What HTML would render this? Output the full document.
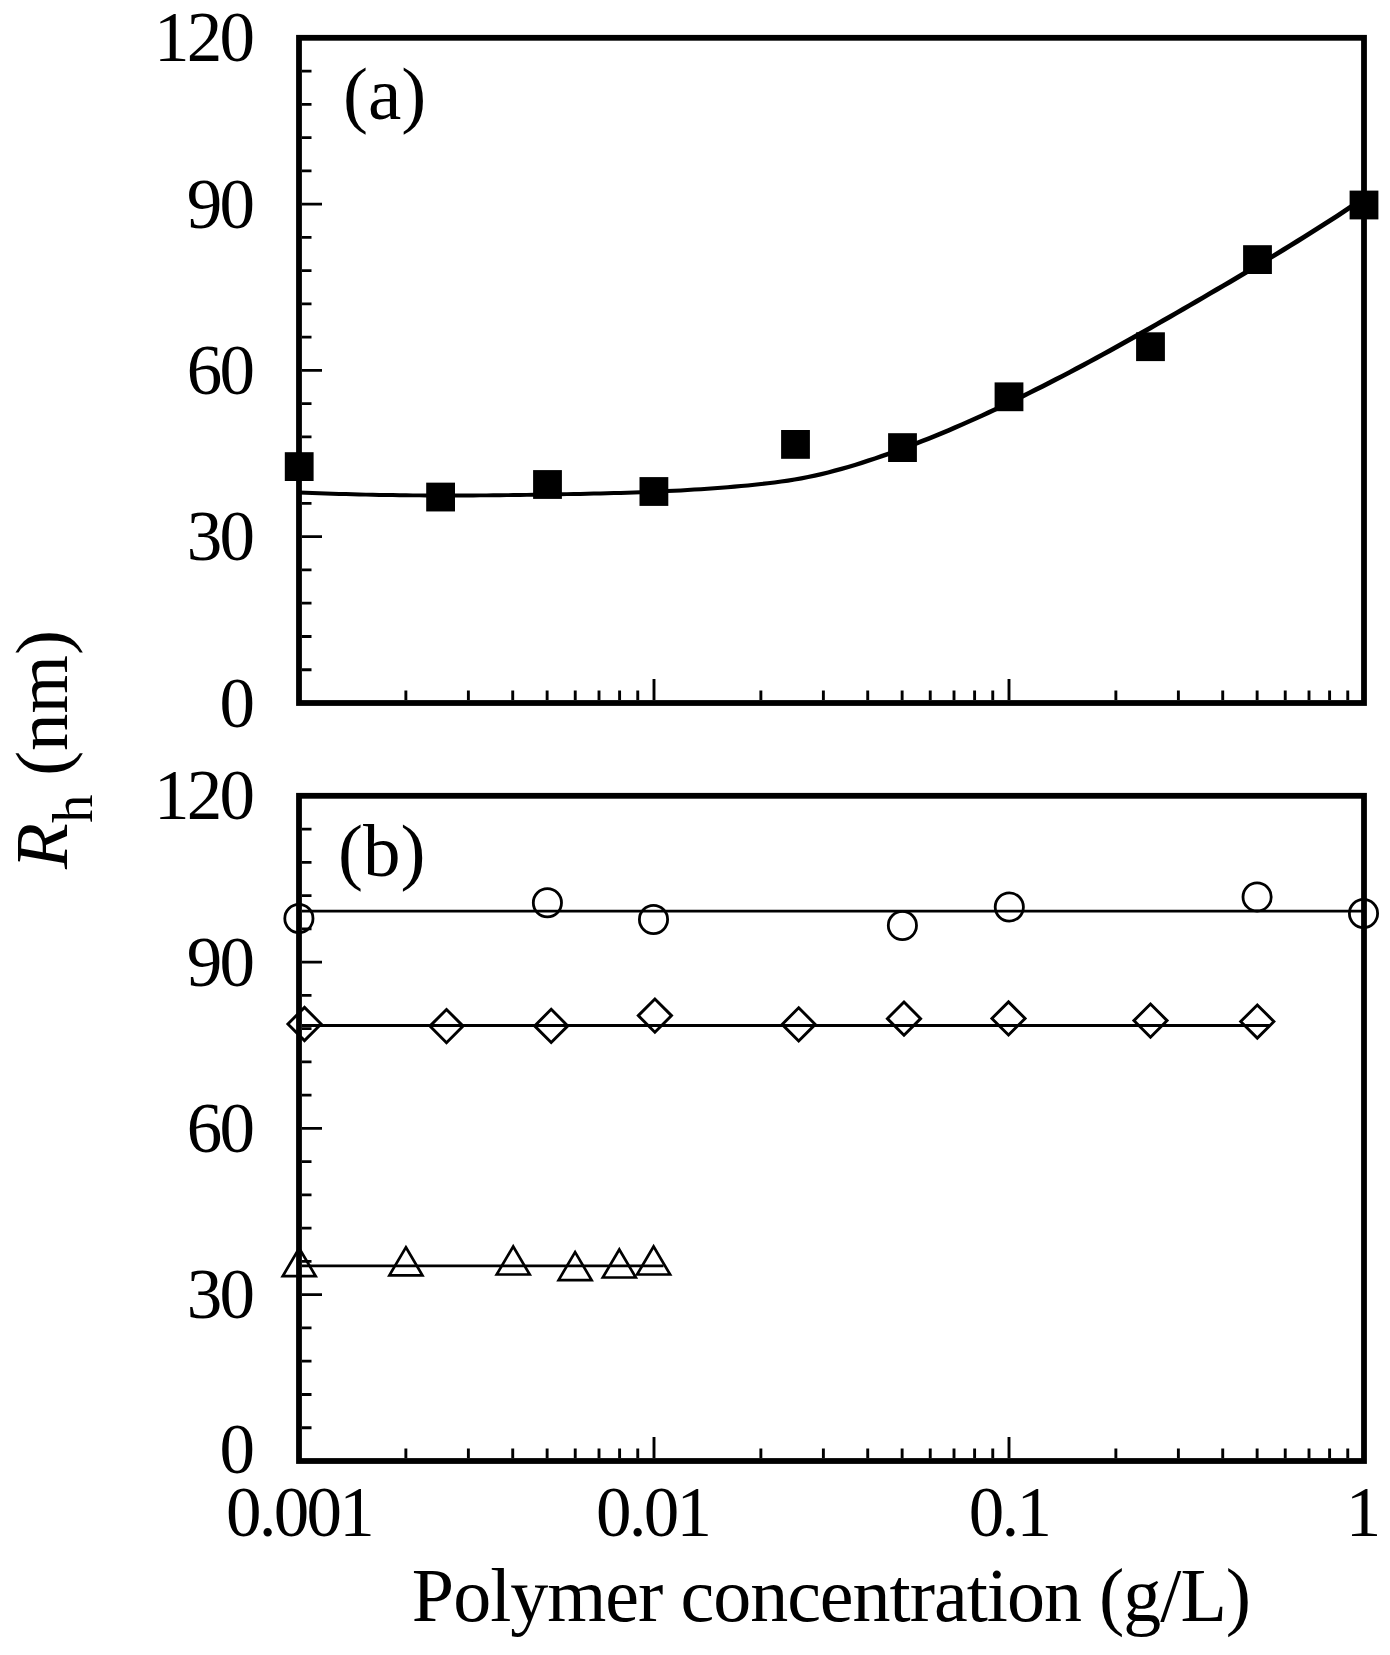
<!DOCTYPE html><html><head><meta charset="utf-8"><style>html,body{margin:0;padding:0;background:#fff;width:1390px;height:1655px;overflow:hidden}svg{display:block}</style></head><body>
<svg width="1390" height="1655" viewBox="0 0 1390 1655">
<rect width="1390" height="1655" fill="#fff"/>
<rect x="299" y="37.80" width="1065" height="665.20" fill="none" stroke="#000" stroke-width="5.8"/>
<path d="M302 669.74H311.5 M302 636.48H311.5 M302 603.22H311.5 M302 569.96H311.5 M302 536.70H322 M302 503.44H311.5 M302 470.18H311.5 M302 436.92H311.5 M302 403.66H311.5 M302 370.40H322 M302 337.14H311.5 M302 303.88H311.5 M302 270.62H311.5 M302 237.36H311.5 M302 204.10H322 M302 170.84H311.5 M302 137.58H311.5 M302 104.32H311.5 M302 71.06H311.5" stroke="#000" stroke-width="2.8" fill="none"/>
<path d="M405.87 700.10V690.40 M468.38 700.10V690.40 M512.73 700.10V690.40 M547.13 700.10V690.40 M575.24 700.10V690.40 M599.01 700.10V690.40 M619.60 700.10V690.40 M637.76 700.10V690.40 M654.00 700.10V679.10 M760.87 700.10V690.40 M823.38 700.10V690.40 M867.73 700.10V690.40 M902.13 700.10V690.40 M930.24 700.10V690.40 M954.01 700.10V690.40 M974.60 700.10V690.40 M992.76 700.10V690.40 M1009.00 700.10V679.10 M1115.87 700.10V690.40 M1178.38 700.10V690.40 M1222.73 700.10V690.40 M1257.13 700.10V690.40 M1285.24 700.10V690.40 M1309.01 700.10V690.40 M1329.60 700.10V690.40 M1347.76 700.10V690.40" stroke="#000" stroke-width="2.9" fill="none"/>
<text x="252.3" y="726.60" text-anchor="end" font-family="Liberation Serif, serif" font-size="71" letter-spacing="-2.75">0</text>
<text x="252.3" y="560.30" text-anchor="end" font-family="Liberation Serif, serif" font-size="71" letter-spacing="-2.75">30</text>
<text x="252.3" y="394.00" text-anchor="end" font-family="Liberation Serif, serif" font-size="71" letter-spacing="-2.75">60</text>
<text x="252.3" y="227.70" text-anchor="end" font-family="Liberation Serif, serif" font-size="71" letter-spacing="-2.75">90</text>
<text x="252.3" y="61.40" text-anchor="end" font-family="Liberation Serif, serif" font-size="71" letter-spacing="-2.75">120</text>
<text x="343" y="119" font-family="Liberation Serif, serif" font-size="75">(a)</text>
<rect x="299" y="795.80" width="1065" height="665.20" fill="none" stroke="#000" stroke-width="5.8"/>
<path d="M302 1427.74H311.5 M302 1394.48H311.5 M302 1361.22H311.5 M302 1327.96H311.5 M302 1294.70H322 M302 1261.44H311.5 M302 1228.18H311.5 M302 1194.92H311.5 M302 1161.66H311.5 M302 1128.40H322 M302 1095.14H311.5 M302 1061.88H311.5 M302 1028.62H311.5 M302 995.36H311.5 M302 962.10H322 M302 928.84H311.5 M302 895.58H311.5 M302 862.32H311.5 M302 829.06H311.5" stroke="#000" stroke-width="2.8" fill="none"/>
<path d="M405.87 1458.10V1448.40 M468.38 1458.10V1448.40 M512.73 1458.10V1448.40 M547.13 1458.10V1448.40 M575.24 1458.10V1448.40 M599.01 1458.10V1448.40 M619.60 1458.10V1448.40 M637.76 1458.10V1448.40 M654.00 1458.10V1437.10 M760.87 1458.10V1448.40 M823.38 1458.10V1448.40 M867.73 1458.10V1448.40 M902.13 1458.10V1448.40 M930.24 1458.10V1448.40 M954.01 1458.10V1448.40 M974.60 1458.10V1448.40 M992.76 1458.10V1448.40 M1009.00 1458.10V1437.10 M1115.87 1458.10V1448.40 M1178.38 1458.10V1448.40 M1222.73 1458.10V1448.40 M1257.13 1458.10V1448.40 M1285.24 1458.10V1448.40 M1309.01 1458.10V1448.40 M1329.60 1458.10V1448.40 M1347.76 1458.10V1448.40" stroke="#000" stroke-width="2.9" fill="none"/>
<text x="252.3" y="1472.60" text-anchor="end" font-family="Liberation Serif, serif" font-size="71" letter-spacing="-2.75">0</text>
<text x="252.3" y="1318.30" text-anchor="end" font-family="Liberation Serif, serif" font-size="71" letter-spacing="-2.75">30</text>
<text x="252.3" y="1152.00" text-anchor="end" font-family="Liberation Serif, serif" font-size="71" letter-spacing="-2.75">60</text>
<text x="252.3" y="985.70" text-anchor="end" font-family="Liberation Serif, serif" font-size="71" letter-spacing="-2.75">90</text>
<text x="252.3" y="819.40" text-anchor="end" font-family="Liberation Serif, serif" font-size="71" letter-spacing="-2.75">120</text>
<text x="338" y="876" font-family="Liberation Serif, serif" font-size="75">(b)</text>
<text x="299.00" y="1536" text-anchor="middle" font-family="Liberation Serif, serif" font-size="71" letter-spacing="-2.75">0.001</text>
<text x="652.50" y="1536" text-anchor="middle" font-family="Liberation Serif, serif" font-size="71" letter-spacing="-2.75">0.01</text>
<text x="1009.00" y="1536" text-anchor="middle" font-family="Liberation Serif, serif" font-size="71" letter-spacing="-2.75">0.1</text>
<text x="1362.00" y="1536" text-anchor="middle" font-family="Liberation Serif, serif" font-size="71" letter-spacing="-2.75">1</text>
<text x="831" y="1620.8" text-anchor="middle" font-family="Liberation Serif, serif" font-size="76" letter-spacing="-1">Polymer concentration (g/L)</text>
<text transform="translate(67 749.5) rotate(-90)" text-anchor="middle" font-family="Liberation Serif, serif" font-size="75"><tspan font-style="italic">R</tspan><tspan font-size="57" dy="25.2">h</tspan><tspan dy="-25.2"> (nm)</tspan></text>
<path d="M298.9 494.4 L305.6 494.7 L312.3 494.9 L319.0 495.2 L325.7 495.4 L332.4 495.7 L339.1 495.9 L345.8 496.1 L352.5 496.3 L359.2 496.4 L365.9 496.6 L372.6 496.7 L379.3 496.9 L386.0 497.0 L392.7 497.1 L399.4 497.2 L406.1 497.2 L412.9 497.3 L419.6 497.3 L426.3 497.4 L433.0 497.4 L439.7 497.4 L446.4 497.4 L453.1 497.4 L459.8 497.4 L466.5 497.4 L473.2 497.4 L479.9 497.3 L486.6 497.3 L493.3 497.2 L500.0 497.2 L506.7 497.1 L513.4 497.0 L520.1 496.9 L526.8 496.8 L533.5 496.7 L540.2 496.6 L546.9 496.5 L553.6 496.4 L560.3 496.3 L567.0 496.1 L573.7 496.0 L580.4 495.9 L587.1 495.7 L593.8 495.6 L600.5 495.4 L607.2 495.2 L613.9 495.0 L620.6 494.9 L627.3 494.7 L634.0 494.4 L640.7 494.2 L647.4 493.9 L654.1 493.7 L660.8 493.4 L667.5 493.1 L674.2 492.8 L680.9 492.4 L687.6 492.0 L694.3 491.6 L701.0 491.2 L707.7 490.8 L714.4 490.3 L721.1 489.8 L727.8 489.2 L734.6 488.7 L741.3 488.1 L748.0 487.4 L754.7 486.7 L761.4 486.0 L768.1 485.3 L774.8 484.5 L781.5 483.6 L788.3 482.7 L795.0 481.6 L801.7 480.4 L808.5 479.1 L815.2 477.7 L821.9 476.2 L828.7 474.6 L835.4 472.8 L842.1 471.0 L848.9 469.1 L855.6 467.1 L862.3 465.0 L869.0 462.8 L875.7 460.6 L882.5 458.3 L889.2 455.9 L895.9 453.5 L902.6 451.1 L909.3 448.5 L916.0 446.0 L922.8 443.3 L929.5 440.7 L936.2 437.9 L942.9 435.2 L949.6 432.4 L956.3 429.5 L963.0 426.6 L969.7 423.6 L976.5 420.6 L983.2 417.6 L989.9 414.5 L996.6 411.3 L1003.3 408.2 L1010.0 405.0 L1016.7 401.7 L1023.4 398.4 L1030.1 395.1 L1036.8 391.8 L1043.5 388.4 L1050.3 385.0 L1057.0 381.5 L1063.7 378.0 L1070.4 374.5 L1077.1 371.0 L1083.8 367.4 L1090.5 363.8 L1097.2 360.2 L1103.9 356.5 L1110.6 352.9 L1117.3 349.2 L1124.0 345.4 L1130.7 341.7 L1137.4 338.0 L1144.1 334.2 L1150.8 330.4 L1157.5 326.6 L1164.2 322.8 L1170.9 318.9 L1177.6 315.1 L1184.3 311.2 L1191.0 307.3 L1197.7 303.4 L1204.4 299.5 L1211.1 295.6 L1217.8 291.7 L1224.5 287.8 L1231.2 283.9 L1237.9 279.9 L1244.6 275.9 L1251.4 271.9 L1258.1 267.9 L1264.8 263.9 L1271.5 259.8 L1278.2 255.8 L1284.9 251.7 L1291.6 247.6 L1298.3 243.4 L1305.0 239.2 L1311.7 235.0 L1318.4 230.8 L1325.1 226.5 L1331.8 222.2 L1338.5 217.9 L1345.2 213.5 L1351.9 209.1 L1358.6 204.7 L1365.3 200.2 L1362.7 196.2 L1356.0 200.6 L1349.3 205.1 L1342.6 209.5 L1335.9 213.9 L1329.2 218.2 L1322.5 222.5 L1315.8 226.7 L1309.1 231.0 L1302.4 235.2 L1295.8 239.3 L1289.1 243.5 L1282.4 247.6 L1275.7 251.7 L1269.0 255.8 L1262.3 259.8 L1255.6 263.8 L1248.9 267.8 L1242.2 271.8 L1235.5 275.8 L1228.8 279.8 L1222.1 283.7 L1215.4 287.6 L1208.7 291.5 L1202.1 295.4 L1195.4 299.3 L1188.7 303.2 L1182.0 307.1 L1175.3 311.0 L1168.6 314.8 L1161.9 318.6 L1155.2 322.5 L1148.5 326.3 L1141.8 330.1 L1135.1 333.8 L1128.4 337.6 L1121.7 341.3 L1115.0 345.0 L1108.3 348.7 L1101.6 352.4 L1095.0 356.0 L1088.3 359.7 L1081.6 363.3 L1074.9 366.8 L1068.2 370.4 L1061.5 373.9 L1054.8 377.3 L1048.1 380.8 L1041.4 384.2 L1034.7 387.6 L1028.1 391.0 L1021.4 394.3 L1014.7 397.6 L1008.0 400.8 L1001.3 404.0 L994.6 407.2 L987.9 410.3 L981.3 413.4 L974.6 416.4 L967.9 419.4 L961.2 422.4 L954.5 425.3 L947.8 428.2 L941.1 431.0 L934.5 433.8 L927.8 436.5 L921.1 439.1 L914.4 441.8 L907.7 444.3 L901.0 446.9 L894.4 449.3 L887.7 451.7 L881.0 454.1 L874.3 456.4 L867.6 458.6 L861.0 460.8 L854.3 462.9 L847.6 464.9 L841.0 466.8 L834.3 468.6 L827.6 470.4 L821.0 472.0 L814.3 473.6 L807.6 475.0 L801.0 476.3 L794.3 477.5 L787.7 478.6 L781.0 479.5 L774.3 480.4 L767.6 481.2 L760.9 482.0 L754.3 482.7 L747.6 483.4 L740.9 484.0 L734.2 484.6 L727.5 485.2 L720.8 485.8 L714.1 486.3 L707.4 486.8 L700.8 487.2 L694.1 487.6 L687.4 488.0 L680.7 488.4 L674.0 488.8 L667.3 489.1 L660.6 489.4 L653.9 489.7 L647.2 490.0 L640.5 490.2 L633.8 490.5 L627.1 490.7 L620.5 490.9 L613.8 491.1 L607.1 491.3 L600.4 491.5 L593.7 491.6 L587.0 491.8 L580.3 491.9 L573.6 492.1 L566.9 492.2 L560.2 492.3 L553.5 492.5 L546.8 492.6 L540.1 492.7 L533.4 492.8 L526.7 492.9 L520.0 493.0 L513.3 493.1 L506.6 493.2 L499.9 493.2 L493.2 493.3 L486.5 493.4 L479.8 493.4 L473.1 493.5 L466.4 493.5 L459.7 493.5 L453.1 493.5 L446.4 493.5 L439.7 493.5 L433.0 493.5 L426.3 493.5 L419.6 493.4 L412.9 493.4 L406.2 493.3 L399.5 493.2 L392.8 493.1 L386.1 493.0 L379.4 492.9 L372.7 492.8 L366.0 492.7 L359.3 492.5 L352.6 492.3 L345.9 492.1 L339.2 491.9 L332.6 491.7 L325.9 491.5 L319.2 491.2 L312.5 491.0 L305.8 490.7 L299.1 490.4Z" fill="#000"/>
<rect x="284.80" y="452.20" width="28.8" height="28.8" fill="#000"/>
<rect x="426.20" y="482.65" width="28.8" height="28.8" fill="#000"/>
<rect x="533.10" y="470.10" width="28.8" height="28.8" fill="#000"/>
<rect x="639.50" y="477.10" width="28.8" height="28.8" fill="#000"/>
<rect x="781.10" y="430.00" width="28.8" height="28.8" fill="#000"/>
<rect x="888.10" y="433.20" width="28.8" height="28.8" fill="#000"/>
<rect x="994.60" y="382.40" width="28.8" height="28.8" fill="#000"/>
<rect x="1136.10" y="332.30" width="28.8" height="28.8" fill="#000"/>
<rect x="1243.10" y="245.20" width="28.8" height="28.8" fill="#000"/>
<rect x="1349.60" y="190.60" width="28.8" height="28.8" fill="#000"/>
<path d="M302 911.2H1364" stroke="#000" stroke-width="2.8"/>
<path d="M302 1025.5H1269.5" stroke="#000" stroke-width="2.8"/>
<path d="M302 1265.8H663.5" stroke="#000" stroke-width="2.8"/>
<circle cx="298.9" cy="918.5" r="14.1" fill="none" stroke="#000" stroke-width="2.8"/>
<circle cx="547.4" cy="902.8" r="14.1" fill="none" stroke="#000" stroke-width="2.8"/>
<circle cx="653.5" cy="919.5" r="14.1" fill="none" stroke="#000" stroke-width="2.8"/>
<circle cx="902.4" cy="925.5" r="14.1" fill="none" stroke="#000" stroke-width="2.8"/>
<circle cx="1009.3" cy="907" r="14.1" fill="none" stroke="#000" stroke-width="2.8"/>
<circle cx="1257.1" cy="896.9" r="14.1" fill="none" stroke="#000" stroke-width="2.8"/>
<circle cx="1363.5" cy="913.5" r="14.1" fill="none" stroke="#000" stroke-width="2.8"/>
<path d="M304.5 1007.40L321.10 1024L304.5 1040.60L287.90 1024Z" fill="none" stroke="#000" stroke-width="2.9" stroke-miterlimit="10"/>
<path d="M446.5 1009.50L463.10 1026.1L446.5 1042.70L429.90 1026.1Z" fill="none" stroke="#000" stroke-width="2.9" stroke-miterlimit="10"/>
<path d="M551.2 1009.30L567.80 1025.9L551.2 1042.50L534.60 1025.9Z" fill="none" stroke="#000" stroke-width="2.9" stroke-miterlimit="10"/>
<path d="M654.9 999.00L671.50 1015.6L654.9 1032.20L638.30 1015.6Z" fill="none" stroke="#000" stroke-width="2.9" stroke-miterlimit="10"/>
<path d="M798.7 1007.80L815.30 1024.4L798.7 1041.00L782.10 1024.4Z" fill="none" stroke="#000" stroke-width="2.9" stroke-miterlimit="10"/>
<path d="M904.0 1002.05L920.60 1018.65L904.0 1035.25L887.40 1018.65Z" fill="none" stroke="#000" stroke-width="2.9" stroke-miterlimit="10"/>
<path d="M1008.5 1001.85L1025.10 1018.45L1008.5 1035.05L991.90 1018.45Z" fill="none" stroke="#000" stroke-width="2.9" stroke-miterlimit="10"/>
<path d="M1150.5 1004.00L1167.10 1020.6L1150.5 1037.20L1133.90 1020.6Z" fill="none" stroke="#000" stroke-width="2.9" stroke-miterlimit="10"/>
<path d="M1257.3 1004.95L1273.90 1021.55L1257.3 1038.15L1240.70 1021.55Z" fill="none" stroke="#000" stroke-width="2.9" stroke-miterlimit="10"/>
<path d="M299.2 1248.20L315.70 1276.20L282.70 1276.20Z" fill="none" stroke="#000" stroke-width="2.7" stroke-miterlimit="10"/>
<path d="M405.9 1247.30L422.40 1275.30L389.40 1275.30Z" fill="none" stroke="#000" stroke-width="2.7" stroke-miterlimit="10"/>
<path d="M513.2 1246.50L529.70 1274.50L496.70 1274.50Z" fill="none" stroke="#000" stroke-width="2.7" stroke-miterlimit="10"/>
<path d="M575.1 1252.10L591.60 1280.10L558.60 1280.10Z" fill="none" stroke="#000" stroke-width="2.7" stroke-miterlimit="10"/>
<path d="M619.3 1249.50L635.80 1277.50L602.80 1277.50Z" fill="none" stroke="#000" stroke-width="2.7" stroke-miterlimit="10"/>
<path d="M653.6 1246.50L670.10 1274.50L637.10 1274.50Z" fill="none" stroke="#000" stroke-width="2.7" stroke-miterlimit="10"/>
</svg></body></html>
